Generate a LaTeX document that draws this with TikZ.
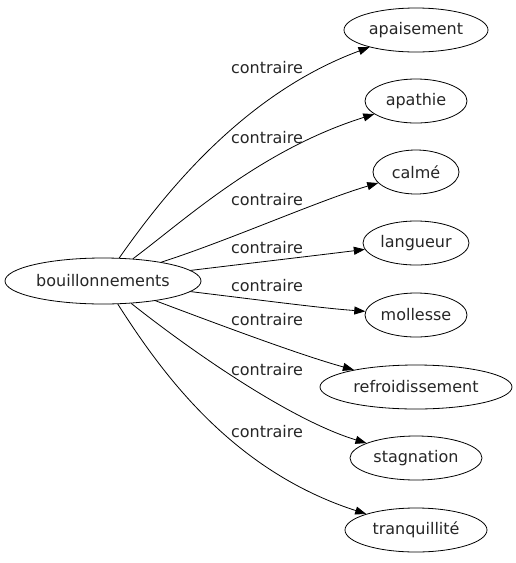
\documentclass[tikz,border=0pt]{standalone}
\usepackage{fontspec}
\setmainfont{DejaVu Sans}
\usetikzlibrary{arrows.meta,shapes.geometric}
\begin{document}
\begin{tikzpicture}[x=1pt,y=-1pt,
  every node/.style={font=\fontsize{16}{19}\selectfont, text=black!85},
  term/.style={draw, ellipse, inner sep=0pt, minimum height=44pt, line width=0.8pt},
  lbl/.style={inner sep=0pt, anchor=center},
  rel/.style={draw, line width=0.8pt, -{Triangle[length=11pt,width=8pt]}}]
\useasboundingbox (0,0) rectangle (516,563);
\node[term, minimum width=196pt, minimum height=46pt] (b) at (103,281) {bouillonnements};
\node[term, minimum width=144pt] (n1) at (416,30) {apaisement};
\node[term, minimum width=102pt] (n2) at (416,101) {apathie};
\node[term, minimum width=86pt] (n3) at (416,172) {calmé};
\node[term, minimum width=106pt] (n4) at (416,243) {langueur};
\node[term, minimum width=102pt] (n5) at (416,315) {mollesse};
\node[term, minimum width=192pt] (n6) at (416,387) {refroidissement};
\node[term, minimum width=132pt] (n7) at (416,458) {stagnation};
\node[term, minimum width=142pt] (n8) at (416,530) {tranquillité};
\draw[rel] (b) .. controls (160,200) and (240,95) .. (n1);
\draw[rel] (b) .. controls (185,220) and (260,150) .. (n2);
\draw[rel] (b) .. controls (230,240) and (320,200) .. (n3);
\draw[rel] (b) .. controls (260,262) and (320,255) .. (n4);
\draw[rel] (b) .. controls (260,300) and (320,308) .. (n5);
\draw[rel] (b) .. controls (220,325) and (300,355) .. (n6);
\draw[rel] (b) .. controls (190,350) and (290,420) .. (n7);
\draw[rel] (b) .. controls (160,370) and (230,470) .. (n8);
\node[lbl] (l1) at (267,68) {contraire};
\node[lbl] (l2) at (267,138) {contraire};
\node[lbl] (l3) at (267,200) {contraire};
\node[lbl] (l4) at (267,248) {contraire};
\node[lbl] (l5) at (267,286) {contraire};
\node[lbl] (l6) at (267,320) {contraire};
\node[lbl] (l7) at (267,370) {contraire};
\node[lbl] (l8) at (267,432) {contraire};
\end{tikzpicture}
\end{document}
